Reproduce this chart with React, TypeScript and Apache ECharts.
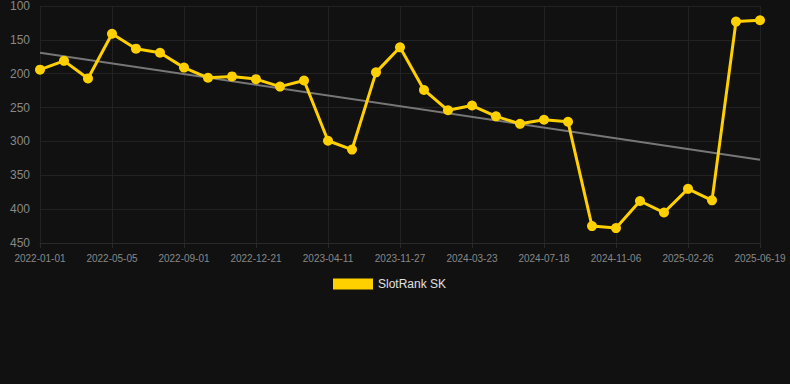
import React, { useEffect, useRef } from "react";
import * as echarts from "echarts";

const categories: string[] = [
  "2022-01-01", "2022-02-12", "2022-03-24", "2022-05-05", "2022-06-14", "2022-07-23",
  "2022-09-01", "2022-10-09", "2022-11-15", "2022-12-21", "2023-01-30", "2023-03-02",
  "2023-04-11", "2023-06-20", "2023-09-05", "2023-11-27", "2024-01-10", "2024-02-15",
  "2024-03-23", "2024-04-30", "2024-06-09", "2024-07-18", "2024-08-24", "2024-09-30",
  "2024-11-06", "2024-12-12", "2025-01-19", "2025-02-26", "2025-04-02", "2025-05-12",
  "2025-06-19",
];

const rankValues: number[] = [
  194, 181, 207, 141, 163, 169, 191, 206, 204, 208, 219, 210,
  299, 312, 198, 161, 224, 254, 247, 263, 274, 268, 271, 425,
  428, 388, 405, 370, 387, 123, 121,
];

const trendEnds: number[] = [169, 327];

const yTicks = { min: 100, max: 450, interval: 50 };

export default function App() {
  const ref = useRef<HTMLDivElement>(null);
  useEffect(() => {
    document.body.style.margin = "0";
    document.body.style.background = "#111111";
    if (!ref.current) return;
    const chart = echarts.init(ref.current, undefined, { renderer: "svg" });
    chart.setOption({
      animation: false,
      backgroundColor: "#111111",
      grid: { left: 40, right: 30, top: 6, bottom: 141, containLabel: false },
      legend: {
        top: 278,
        left: 333,
        padding: 0,
        itemWidth: 40,
        itemHeight: 11,
        itemGap: 10,
        icon: "rect",
        textStyle: { color: "#e0e0e0", fontSize: 12, fontFamily: "Arial, Liberation Sans, sans-serif" },
        data: ["SlotRank SK"],
      },
      xAxis: {
        type: "category",
        data: categories,
        boundaryGap: false,
        axisLine: { lineStyle: { color: "#2a2a2a" } },
        axisTick: { show: true, interval: 2, length: 5, lineStyle: { color: "#2a2a2a" } },
        axisLabel: {
          interval: 2,
          color: "#888888",
          fontSize: 10,
          margin: 10,
          fontFamily: "Arial, Liberation Sans, sans-serif",
        },
        splitLine: { show: true, interval: 2, lineStyle: { color: "#222222", width: 1 } },
      },
      yAxis: {
        type: "value",
        inverse: true,
        min: yTicks.min,
        max: yTicks.max,
        interval: yTicks.interval,
        axisLine: { show: false },
        axisTick: { show: false },
        axisLabel: {
          color: "#888888",
          fontSize: 12,
          margin: 10,
          fontFamily: "Arial, Liberation Sans, sans-serif",
        },
        splitLine: { lineStyle: { color: "#222222", width: 1 } },
      },
      series: [
        {
          name: "SlotRank SK",
          type: "line",
          data: rankValues,
          color: "#FFD000",
          symbol: "circle",
          symbolSize: 10,
          lineStyle: { width: 3, color: "#FFD000" },
          itemStyle: { color: "#FFD000" },
          z: 3,
          markLine: {
            silent: true,
            symbol: ["none", "none"],
            label: { show: false },
            lineStyle: { color: "#777777", width: 2, type: "solid" },
            data: [[
              { coord: [categories[0], trendEnds[0]] },
              { coord: [categories[categories.length - 1], trendEnds[1]] },
            ]],
            z: 2,
          },
        },
      ],
    });
    return () => chart.dispose();
  }, []);
  return <div ref={ref} style={{ width: 790, height: 384 }} />;
}
